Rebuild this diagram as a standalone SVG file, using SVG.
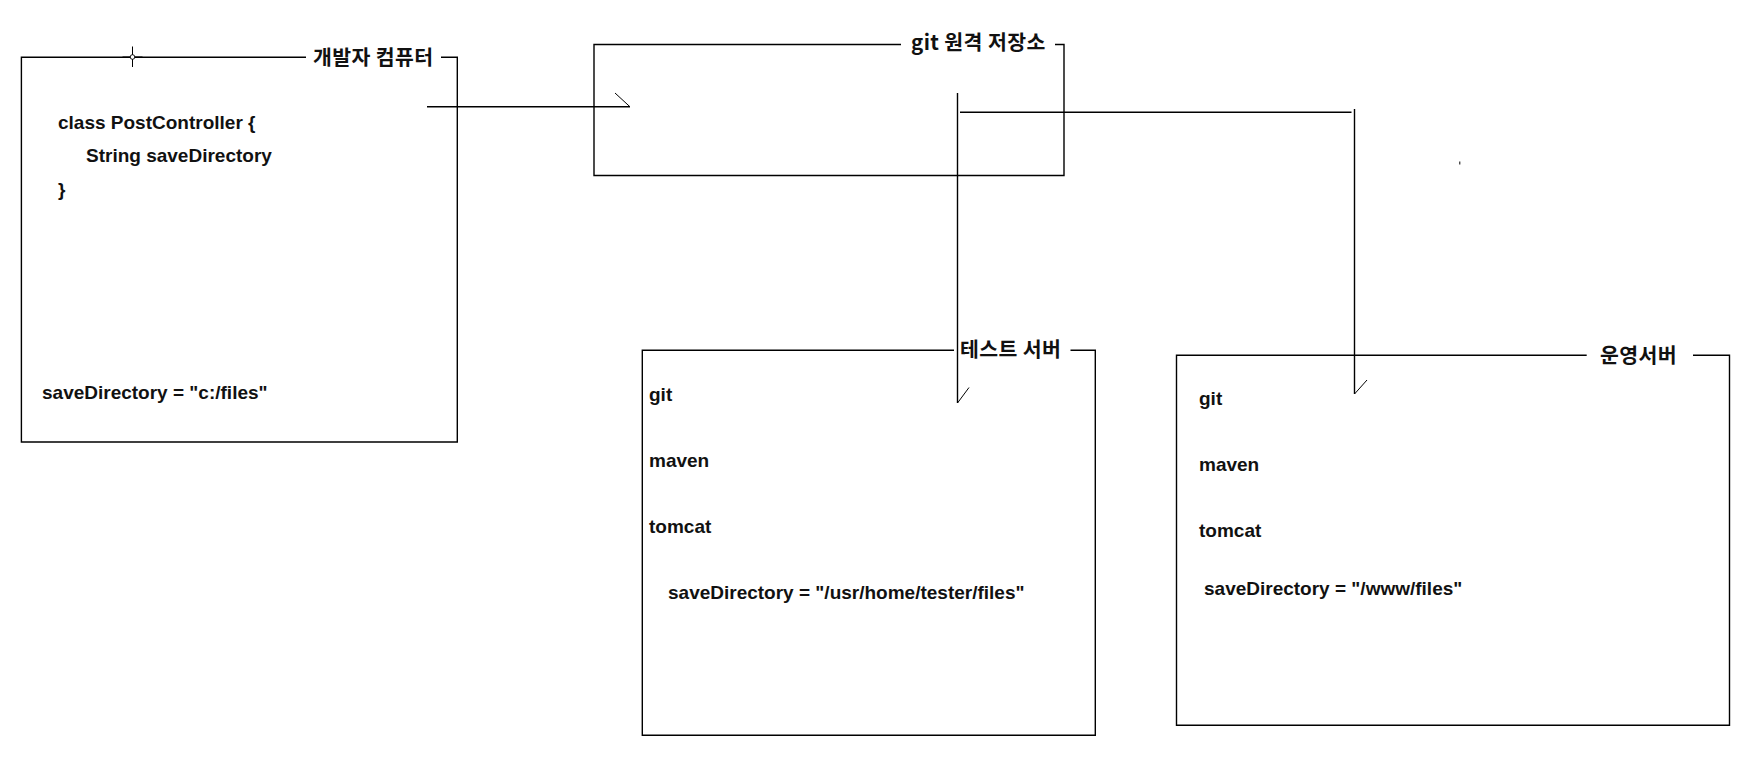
<svg xmlns="http://www.w3.org/2000/svg" width="1763" height="766" viewBox="0 0 1763 766">
<style>
.ln{fill:none;stroke:#000;stroke-width:1.4;stroke-linecap:butt}
.thin{fill:none;stroke:#000;stroke-width:1}
.t{font-family:"Liberation Sans","Noto Sans CJK KR",sans-serif;font-weight:bold;font-size:19px;fill:#111}
.k{font-family:"Noto Sans CJK KR","Liberation Sans",sans-serif;font-weight:bold;font-size:20.5px;letter-spacing:0.4px;fill:#111}
</style>
<rect width="1763" height="766" fill="#fff"/>
<g id="dev-computer">
<path class="ln" d="M306,57.3 H21.4 V442 H457.3 V57.3 H441"/>
<text class="k" x="313" y="64.5">개발자 컴퓨터</text>
<text class="t" x="58" y="129">class PostController {</text>
<text class="t" x="86" y="162">String saveDirectory</text>
<text class="t" x="58" y="196">}</text>
<text class="t" x="42" y="399">saveDirectory = "c:/files"</text>
</g>
<g id="git-remote">
<path class="ln" d="M901,44.5 H594 V175.5 H1064 V44.5 H1055"/>
<text class="k" x="911" y="49.5">git 원격 저장소</text>
</g>
<g id="test-server">
<path class="ln" d="M954,350.3 H642.3 V735.3 H1095.3 V350.3 H1070.5"/>
<text class="k" x="960" y="356.5">테스트 서버</text>
<text class="t" x="649" y="401">git</text>
<text class="t" x="649" y="467">maven</text>
<text class="t" x="649" y="533">tomcat</text>
<text class="t" x="668" y="599">saveDirectory = "/usr/home/tester/files"</text>
</g>
<g id="prod-server">
<path class="ln" d="M1586.7,355.3 H1176.5 V725.3 H1729.5 V355.3 H1693"/>
<text class="k" x="1600" y="362.5">운영서버</text>
<text class="t" x="1199" y="405">git</text>
<text class="t" x="1199" y="471">maven</text>
<text class="t" x="1199" y="537">tomcat</text>
<text class="t" x="1204" y="595">saveDirectory = "/www/files"</text>
</g>
<g id="connectors">
<path class="ln" d="M427,106.8 H630"/>
<path class="thin" d="M630,106.8 L615,93"/>
<path class="ln" d="M957.5,93 V403"/>
<path class="thin" d="M957.5,403 L969,387.5"/>
<path class="ln" d="M960,112.3 H1351.5"/>
<path class="ln" d="M1354.5,109 V394"/>
<path class="thin" d="M1354.5,394 L1367,380"/>
</g>
<g id="cursor-marks">
<path class="thin" d="M132.5,46.5 V67 M122.5,57 H142.5"/>
<circle cx="132.5" cy="57" r="2.3" fill="#fff" stroke="#000" stroke-width="0.9"/>
<path class="thin" d="M1459.8,161.5 V164.5"/>
</g>
</svg>
